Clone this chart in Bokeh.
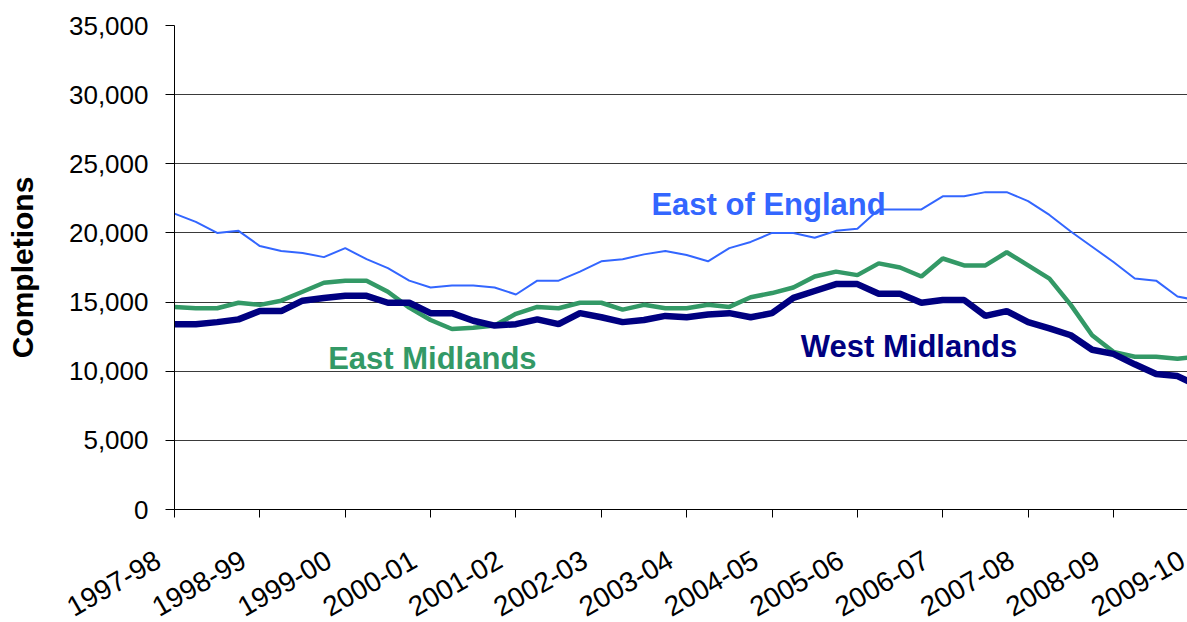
import math
from bokeh.plotting import figure
from bokeh.models import Range1d, FixedTicker, NumeralTickFormatter
from bokeh.core.properties import value
from bokeh.embed import file_html
from bokeh.resources import INLINE

# ---------------- data (quarterly, 1997-98 Q1 onwards) ----------------
quarter_index = list(range(49))
east_of_england = [21400, 20800, 20000, 20150, 19050, 18700, 18550, 18250,
                   18900, 18100, 17450, 16550, 16050, 16200, 16200, 16050,
                   15550, 16550, 16550, 17200, 17950, 18100, 18450, 18700,
                   18400, 17950, 18900, 19350, 20000, 20000, 19650, 20150,
                   20300, 21700, 21700, 21700, 22650, 22650, 22950, 22950,
                   22300, 21300, 20100, 19000, 17900, 16700, 16550, 15400,
                   15100]
east_midlands = [14650, 14550, 14550, 14950, 14800, 15100, 15750, 16400,
                 16550, 16550, 15750, 14600, 13700, 13050, 13150, 13300,
                 14150, 14650, 14550, 14950, 14950, 14450, 14800, 14550,
                 14550, 14800, 14650, 15350, 15650, 16050, 16850, 17200,
                 16950, 17800, 17500, 16850, 18150, 17650, 17650, 18600,
                 17650, 16700, 14800, 12600, 11400, 11050, 11050, 10900,
                 11050]
west_midlands = [13400, 13400, 13550, 13750, 14350, 14350, 15100, 15300,
                 15450, 15450, 14950, 14950, 14200, 14200, 13650, 13300,
                 13400, 13750, 13400, 14200, 13900, 13550, 13700, 14000,
                 13900, 14100, 14200, 13900, 14200, 15300, 15800, 16300,
                 16300, 15600, 15600, 14950, 15150, 15150, 14000, 14350,
                 13550, 13100, 12600, 11550, 11250, 10500, 9800, 9650,
                 8900]
year_ticks = [0, 4, 8, 12, 16, 20, 24, 28, 32, 36, 40, 44, 48]
year_labels = ["1997-98", "1998-99", "1999-00", "2000-01", "2001-02", "2002-03",
               "2003-04", "2004-05", "2005-06", "2006-07", "2007-08", "2008-09",
               "2009-10"]
y_ticks = [0, 5000, 10000, 15000, 20000, 25000, 30000, 35000]

FONT = "Liberation Sans"
BLUE = "#3366FF"
GREEN = "#339966"
NAVY = "#000080"

W = 1187
LEFT = 174
X_END = 47.47
H_MAIN = 529
H_LAB = 93

p = figure(width=W, height=H_MAIN, output_backend="svg", toolbar_location=None,
           x_range=Range1d(0, X_END), y_range=Range1d(0, 35000),
           min_border_left=LEFT, min_border_right=0, min_border_top=25,
           min_border_bottom=20)
p.outline_line_color = None
p.background_fill_color = "white"

# grid
p.xgrid.grid_line_color = None
p.ygrid.grid_line_color = "#3a3a3a"
p.ygrid.grid_line_width = 1

# y axis
p.yaxis.ticker = FixedTicker(ticks=y_ticks)
p.yaxis.formatter = NumeralTickFormatter(format="0,0")
p.yaxis.major_label_text_font = FONT
p.yaxis.major_label_text_font_size = "26px"
p.yaxis.major_label_text_color = "black"
p.yaxis.major_tick_out = 9
p.yaxis.major_tick_in = 0
p.yaxis.minor_tick_line_color = None
p.yaxis.axis_line_color = "black"
p.yaxis.major_tick_line_color = "black"
p.yaxis.major_label_standoff = 17
p.yaxis.axis_label = "Completions"
p.yaxis.axis_label_text_font = FONT
p.yaxis.axis_label_text_font_style = "bold"
p.yaxis.axis_label_text_font_size = "30px"
p.yaxis.axis_label_text_color = "black"
p.yaxis.axis_label_standoff = 27

# x axis (ticks only; labels drawn in the strip below)
p.xaxis.ticker = FixedTicker(ticks=year_ticks)
p.xaxis.major_label_text_color = None
p.xaxis.major_label_text_font_size = "1px"
p.xaxis.major_label_standoff = 0
p.xaxis.major_tick_out = 8
p.xaxis.major_tick_in = 0
p.xaxis.minor_tick_line_color = None
p.xaxis.axis_line_color = "black"
p.xaxis.major_tick_line_color = "black"

# series
p.line(quarter_index, east_of_england, line_color=BLUE, line_width=2)
p.line(quarter_index, east_midlands, line_color=GREEN, line_width=4.5)
p.line(quarter_index, west_midlands, line_color=NAVY, line_width=6.5)

# series labels
p.text(x=[22.35], y=[22030], text=["East of England"], text_color=BLUE,
       text_font=value(FONT), text_font_style="bold", text_font_size="31px",
       text_align="left", text_baseline="alphabetic")
p.text(x=[7.2], y=[10920], text=["East Midlands"], text_color=GREEN,
       text_font=value(FONT), text_font_style="bold", text_font_size="31px",
       text_align="left", text_baseline="alphabetic")
p.text(x=[29.35], y=[11760], text=["West Midlands"], text_color=NAVY,
       text_font=value(FONT), text_font_style="bold", text_font_size="31px",
       text_align="left", text_baseline="alphabetic")

# strip below the chart for the rotated category labels (same x scale)
px_per_unit = (W - LEFT) / X_END
p2 = figure(width=W, height=H_LAB, output_backend="svg", toolbar_location=None,
            x_range=Range1d(-LEFT / px_per_unit, X_END), y_range=Range1d(-H_LAB, 0),
            x_axis_type=None, y_axis_type=None, min_border=0,
            min_border_left=0, min_border_right=0, min_border_top=0,
            min_border_bottom=0)
p2.outline_line_color = None
p2.xgrid.grid_line_color = None
p2.ygrid.grid_line_color = None
p2.text(x=year_ticks, y=[-20] * len(year_ticks), text=year_labels,
        x_offset=-21, angle=math.radians(30), text_align="right",
        text_baseline="top", text_font=value(FONT), text_font_size="28px",
        text_color="black")

open("out.html", "w").write(file_html([p, p2], INLINE))
